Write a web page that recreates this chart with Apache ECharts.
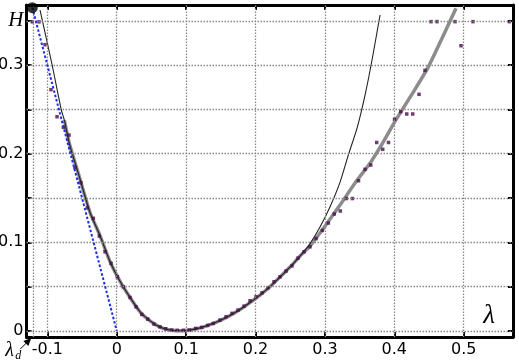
<!DOCTYPE html>
<html><head><meta charset="utf-8">
<script src="https://cdn.jsdelivr.net/npm/echarts@6/dist/echarts.min.js"></script>
<style>html,body{margin:0;padding:0;background:#fff}#c{width:519px;height:363px}</style>
</head><body><div id="c"></div>
<script>
// ---- data ----
const lambdaD = -0.1216;
const dotH = 0.365;
const xMin = -0.13, xMax = 0.571, yMin = -0.007, yMax = 0.368;
const xTicks = [-0.1, 0, 0.1, 0.2, 0.3, 0.4, 0.5];
const xTickLabels = ['-0.1', '0', '0.1', '0.2', '0.3', '0.4', '0.5'];
const yTicks = [0, 0.05, 0.1, 0.15, 0.2, 0.25, 0.3, 0.35];
const yTickLabels = ['0', '', '0.1', '', '0.2', '', '0.3', 'H'];

const dataLambda = [-0.1216,-0.112,-0.1033,-0.0947,-0.086,-0.0769,-0.0687,-0.0602,-0.0516,-0.0424,-0.0337,-0.0251,-0.0169,-0.0082,0.0009,0.0095,0.0192,0.0278,0.036,0.0447,0.0537,0.0624,0.0706,0.0793,0.0873,0.096,0.1046,0.1138,0.1225,0.1311,0.1392,0.1488,0.1575,0.1661,0.1748,0.1834,0.1921,0.2007,0.2094,0.218,0.2267,0.2353,0.244,0.2526,0.2612,0.2699,0.2785,0.2872,0.2963,0.3049,0.3135,0.3222,0.3308,0.3395,0.3484,0.3578,0.366,0.3746,0.3833,0.3916,0.4003,0.4092,0.4179,0.4265,0.4356,0.4442,0.4529,0.4615,0.4875,0.4961,0.5134,0.5657];
const dataH = [0.349,0.349,0.3232,0.2724,0.2418,0.2298,0.2211,0.1846,0.1672,0.139,0.127,0.107,0.0893,0.0762,0.061,0.0497,0.0377,0.0271,0.0185,0.0132,0.0076,0.0045,0.0023,0.0008,0.0005,0.0005,0.0008,0.0027,0.0038,0.0061,0.0083,0.0121,0.0158,0.0197,0.0234,0.0279,0.0339,0.0384,0.0429,0.0486,0.0554,0.061,0.0675,0.0734,0.0821,0.0893,0.0949,0.1042,0.1134,0.1217,0.1319,0.1353,0.1494,0.1494,0.1695,0.1824,0.1872,0.2127,0.205,0.2127,0.2389,0.2475,0.2449,0.2449,0.2671,0.2942,0.3492,0.3492,0.3492,0.322,0.3492,0.3492];

const grayLambda = [-0.0755,-0.0683,-0.0539,-0.0385,-0.0241,-0.0097,0.0048,0.0192,0.0336,0.048,0.0624,0.0768,0.0912,0.1056,0.12,0.1344,0.1488,0.1633,0.1777,0.1921,0.2065,0.2209,0.2353,0.2497,0.2641,0.2785,0.2929,0.3074,0.3218,0.3434,0.366,0.3835,0.401,0.4248,0.4486,0.4889];
const grayH = [0.2381,0.2118,0.174,0.1336,0.1076,0.0783,0.0559,0.0377,0.0215,0.0112,0.0042,0.0008,0,0.0008,0.0033,0.007,0.0115,0.0172,0.024,0.0319,0.0403,0.0499,0.0607,0.072,0.0844,0.0957,0.1104,0.1262,0.142,0.1669,0.1905,0.2125,0.2365,0.2664,0.2975,0.3643];

const blackLambda = [-0.1105,-0.0932,-0.0798,-0.0755,-0.0683,-0.0539,-0.0385,-0.0241,-0.0097,0.0048,0.0192,0.0336,0.048,0.0624,0.0768,0.0912,0.1056,0.12,0.1344,0.1488,0.1633,0.1777,0.1921,0.2065,0.2209,0.2353,0.2497,0.2641,0.2785,0.2929,0.3074,0.3218,0.3337,0.3463,0.3578,0.3679,0.3794];
const blackH = [0.3623,0.3008,0.2493,0.2381,0.2118,0.174,0.1336,0.1076,0.0783,0.0559,0.0377,0.0215,0.0112,0.0042,0.0008,0,0.0008,0.0033,0.007,0.0115,0.0172,0.024,0.0319,0.0403,0.0499,0.0607,0.072,0.0844,0.0985,0.1172,0.1401,0.168,0.1985,0.229,0.2663,0.3059,0.3567];

const blueLambda = [lambdaD, 0];
const blueH = [dotH, 0];

// ---- chart ----
const zip = (a, b) => a.map((v, i) => [v, b[i]]);
const chart = echarts.init(document.getElementById('c'), null, {renderer: 'canvas'});
const lab = {fontFamily: 'DejaVu Sans', fontSize: 16, color: '#000'};
const frame = {show: true, onZero: false, lineStyle: {color: '#000', width: 3}};
const tick = (vals) => ({show: true, inside: true, length: 5, customValues: vals, lineStyle: {color: '#000', width: 2}});

const gridLines = [];
xTicks.concat([lambdaD]).forEach(v => gridLines.push({xAxis: v}));
yTicks.forEach(v => gridLines.push({yAxis: v}));

chart.setOption({
  animation: false,
  backgroundColor: '#fff',
  grid: {left: 26.5, right: 6, top: 5, bottom: 26, containLabel: false, outerBoundsMode: 'none'},
  xAxis: [
    {type: 'value', position: 'bottom', min: xMin, max: xMax, axisLine: frame, axisTick: tick(xTicks),
     axisLabel: Object.assign({customValues: xTicks, margin: 5, hideOverlap: false,
       formatter: v => { const i = xTicks.findIndex(t => Math.abs(t - v) < 1e-9); return i >= 0 ? xTickLabels[i] : ''; }}, lab),
     splitLine: {show: false}},
    {type: 'value', position: 'top', min: xMin, max: xMax, axisLine: frame, axisTick: tick(xTicks),
     axisLabel: {show: false}, splitLine: {show: false}}
  ],
  yAxis: [
    {type: 'value', position: 'left', min: yMin, max: yMax, axisLine: frame, axisTick: tick(yTicks),
     axisLabel: Object.assign({customValues: yTicks, margin: 3, hideOverlap: false,
       formatter: v => { const i = yTicks.findIndex(t => Math.abs(t - v) < 1e-9); const s = i >= 0 ? yTickLabels[i] : ''; return s === 'H' ? '{h|H}' : s; },
       rich: {h: {fontFamily: 'Liberation Serif', fontStyle: 'italic', fontSize: 21, color: '#000'}}}, lab),
     splitLine: {show: false}},
    {type: 'value', position: 'right', min: yMin, max: yMax, axisLine: frame, axisTick: tick(yTicks),
     axisLabel: {show: false}, splitLine: {show: false}}
  ],
  series: [
    {type: 'line', data: [], z: 1, silent: true,
     markLine: {silent: true, symbol: 'none', label: {show: false}, animation: false,
       lineStyle: {color: '#8a8a8a', type: [1.5, 1.5], width: 1.3}, data: gridLines}},
    {type: 'line', data: zip(grayLambda, grayH), smooth: 0.2, showSymbol: false, z: 2,
     lineStyle: {color: '#8c8c8c', width: 3.5, join: 'round'}},
    {type: 'line', data: zip(blackLambda, blackH), smooth: 0.2, showSymbol: false, z: 3,
     lineStyle: {color: '#222', width: 1.1, join: 'round'}},
    {type: 'scatter', data: zip(dataLambda, dataH), symbol: 'rect', symbolSize: 3.5, z: 4,
     itemStyle: {color: '#4a0c4d'}},
    {type: 'line', data: zip(blueLambda, blueH), showSymbol: false, z: 5,
     lineStyle: {color: '#1c2ee8', width: 2, type: [2.5, 2]}},
    {type: 'scatter', data: [[lambdaD, dotH]], symbolSize: 11, z: 6, itemStyle: {color: '#000'}}
  ]
});

// annotations placed from data coordinates
const tip = chart.convertToPixel({xAxisIndex: 0, yAxisIndex: 0}, [lambdaD, yMin]);
const lamPos = chart.convertToPixel({xAxisIndex: 0, yAxisIndex: 0}, [0.5365, 0.0166]);
chart.setOption({
  graphic: [
    {type: 'text', x: lamPos[0], y: lamPos[1], z: 10,
     style: {text: 'λ', font: 'italic 27px "Liberation Serif"', fill: '#000', align: 'center', verticalAlign: 'middle'}},
    {type: 'text', x: tip[0] - 27, y: tip[1] + 4, z: 10,
     style: {text: 'λ', font: 'italic 20px "Liberation Serif"', fill: '#000', align: 'left', verticalAlign: 'top'}},
    {type: 'text', x: tip[0] - 17, y: tip[1] + 13, z: 10,
     style: {text: 'd', font: 'italic 12px "Liberation Serif"', fill: '#000', align: 'left', verticalAlign: 'top'}},
    {type: 'line', z: 10, shape: {x1: tip[0] - 12, y1: tip[1] + 12, x2: tip[0] - 4, y2: tip[1] + 4},
     style: {stroke: '#000', lineWidth: 1}},
    {type: 'polygon', z: 10, shape: {points: [[tip[0] - 1, tip[1] + 1], [tip[0] - 9, tip[1] + 4], [tip[0] - 4, tip[1] + 9]]},
     style: {fill: '#000'}}
  ]
});
</script>
</body></html>
